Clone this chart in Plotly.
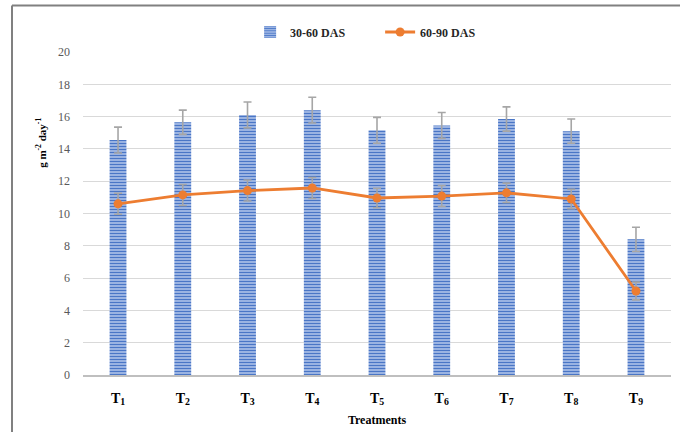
import plotly.graph_objects as go

categories = ["T<sub>1</sub>", "T<sub>2</sub>", "T<sub>3</sub>", "T<sub>4</sub>", "T<sub>5</sub>",
              "T<sub>6</sub>", "T<sub>7</sub>", "T<sub>8</sub>", "T<sub>9</sub>"]
das_30_60 = [14.55, 15.65, 16.1, 16.4, 15.15, 15.45, 15.85, 15.1, 8.4]
das_30_60_err = [0.8, 0.75, 0.8, 0.8, 0.8, 0.8, 0.75, 0.75, 0.75]
das_60_90 = [10.6, 11.15, 11.42, 11.58, 10.96, 11.08, 11.28, 10.9, 5.2]
das_60_90_err = [0.65, 0.65, 0.65, 0.65, 0.6, 0.65, 0.6, 0.6, 0.55]
y_ticks = [0, 2, 4, 6, 8, 10, 12, 14, 16, 18, 20]

serif = "Liberation Serif, Times New Roman, serif"

fig = go.Figure()
fig.add_trace(go.Bar(
    x=categories, y=das_30_60, name="30-60 DAS", width=0.26,
    marker=dict(color="#4472c4", line=dict(width=0),
                pattern=dict(shape="-", bgcolor="#a3bae5", fgcolor="#4a76c6",
                             size=3, solidity=0.4, fillmode="replace")),
    error_y=dict(type="data", array=das_30_60_err, color="#a6a6a6", thickness=1.6, width=4),
))
fig.add_trace(go.Scatter(
    x=categories, y=das_60_90, name="60-90 DAS", mode="lines+markers",
    line=dict(color="#ed7d31", width=2.8),
    marker=dict(color="#ed7d31", size=9),
    error_y=dict(type="data", array=das_60_90_err, color="#a6a6a6", thickness=1.6, width=4),
))

fig.update_layout(
    width=680, height=432,
    margin=dict(l=83, r=9, t=52, b=57, autoexpand=False),
    paper_bgcolor="white", plot_bgcolor="white",
    font=dict(family=serif, color="#595959", size=12),
    showlegend=True,
    legend=dict(orientation="h", xref="container", yref="container",
                x=0.559, xanchor="center", y=1 - 32 / 432, yanchor="middle",
                font=dict(family=serif, size=12, color="#262626", weight="bold"),
                itemwidth=30, tracegroupgap=0, entrywidthmode="pixels", entrywidth=85),
    bargap=0.74,
    xaxis=dict(
        showgrid=False, showline=True, linecolor="#bfbfbf", linewidth=1.5, automargin=False,
        tickfont=dict(family=serif, size=14, color="#000000", weight="bold"),
        ticks="", ticklabelstandoff=9,
        title=dict(text="<b>Treatments</b>", font=dict(family=serif, size=12, color="#000000"), standoff=9),
    ),
    yaxis=dict(
        range=[0, 20], tickvals=y_ticks, showgrid=True, gridcolor="#d9d9d9", gridwidth=1,
        zeroline=False, showline=False, ticks="", ticklabelstandoff=12, automargin=False,
        tickfont=dict(family=serif, size=12, color="#595959"),
    ),
    shapes=[
        dict(type="line", xref="paper", yref="paper", x0=-71/588, x1=1.02, y0=1 + 46.5/323.5, y1=1 + 46.5/323.5,
             line=dict(color="#808080", width=2)),
        dict(type="line", xref="paper", yref="paper", x0=-71/588, x1=-71/588, y0=-0.2, y1=1 + 46.5/323.5,
             line=dict(color="#808080", width=2)),
    ],
    annotations=[
        dict(text="<b>g m<sup>-2</sup> day<sup>-1</sup></b>", textangle=-90, xref="paper", yref="paper",
             x=-42/588, y=(375.5 - 143) / 323.5, xanchor="center", yanchor="middle", showarrow=False,
             font=dict(family=serif, size=11, color="#000000")),
    ],
)

fig.write_html("out.html", config={"displayModeBar": False},
               post_script="document.body.style.margin='0';")
